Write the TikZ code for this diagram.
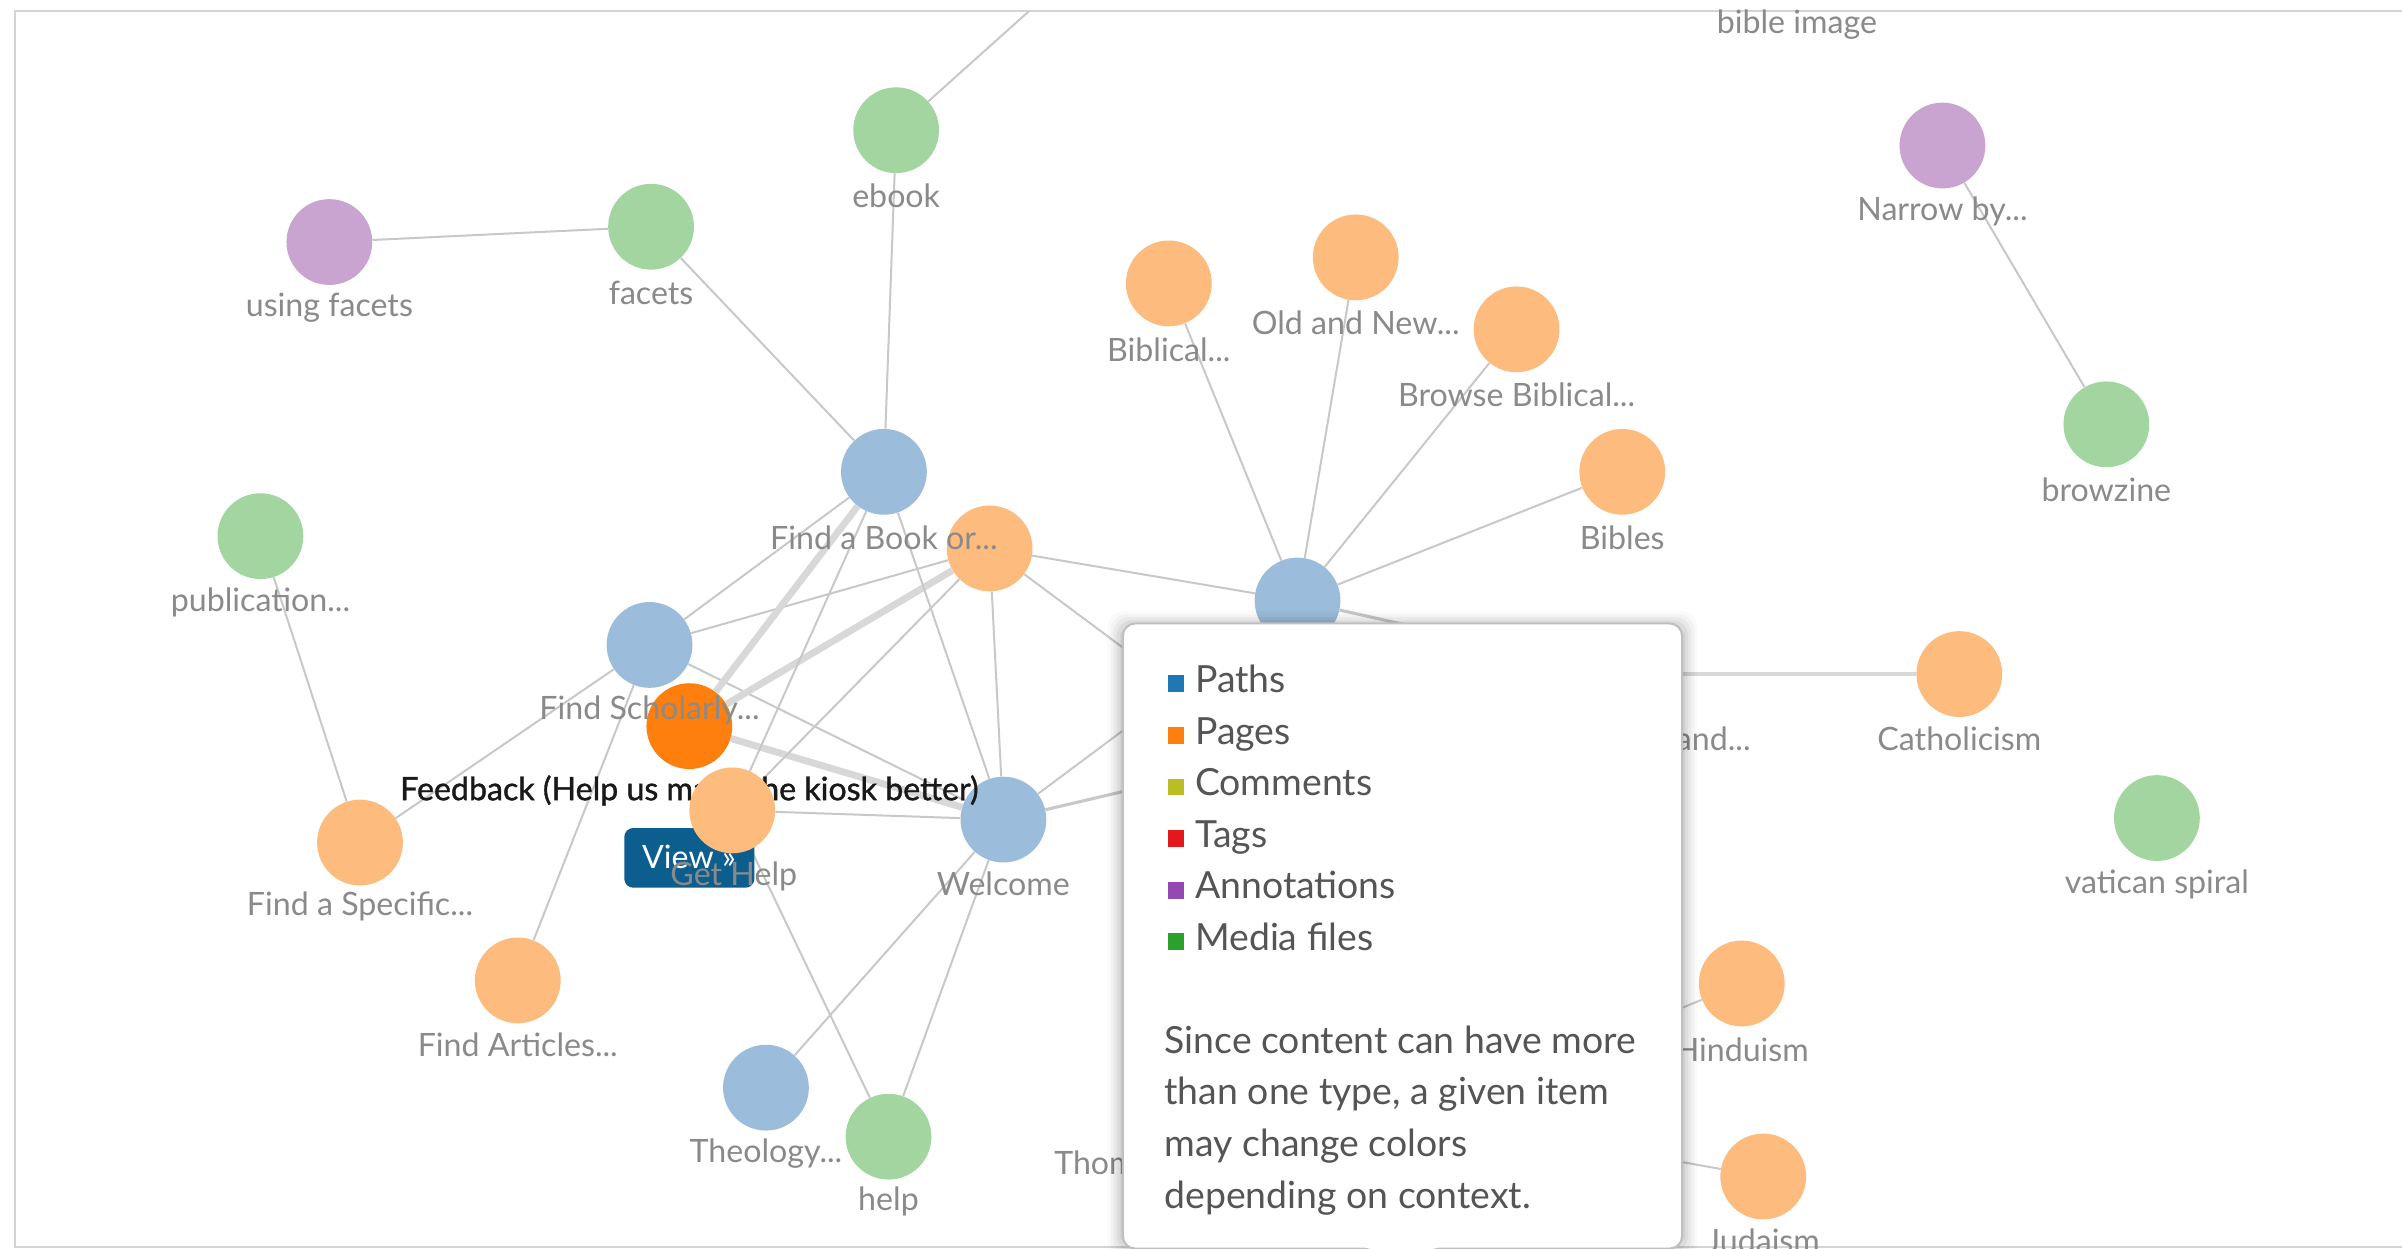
\documentclass[tikz,border=0pt]{standalone}
\usepackage{fontspec}
\setmainfont{Lato}
\newfontfamily\featherbold{Lato}[FakeBold=1.2]
\usetikzlibrary{backgrounds}
\definecolor{nblue}{RGB}{155,188,218}
\definecolor{norange}{RGB}{253,187,125}
\definecolor{ngreen}{RGB}{163,213,160}
\definecolor{npurple}{RGB}{202,164,208}
\definecolor{ndark}{RGB}{255,127,14}
\definecolor{edgec}{RGB}{200,200,200}
\definecolor{heavyc}{RGB}{216,216,216}
\definecolor{labc}{RGB}{138,138,138}
\definecolor{tipc}{RGB}{85,85,85}
\definecolor{framec}{RGB}{212,212,212}
\definecolor{btnc}{RGB}{11,94,142}
\definecolor{cpaths}{RGB}{31,119,180}
\definecolor{cpages}{RGB}{255,127,14}
\definecolor{ccomments}{RGB}{188,189,34}
\definecolor{ctags}{RGB}{226,24,28}
\definecolor{cann}{RGB}{148,72,178}
\definecolor{cmedia}{RGB}{44,160,44}
\tikzset{
  vertex/.style={circle, minimum size=56pt, inner sep=0pt, draw=none},
  lab/.style={text=labc, font=\fontsize{21}{24}\selectfont, inner sep=0pt},
  edge/.style={draw=edgec, line width=1.3pt},
  heavy/.style={draw=heavyc, line width=4.5pt},
  medium/.style={draw=heavyc, line width=3pt},
  legtext/.style={text=tipc, font=\fontsize{24.4}{28}\selectfont, anchor=base west, inner sep=0pt},
  legsq/.style={inner sep=0pt, minimum width=10.5pt, minimum height=11pt, anchor=south west},
}
\begin{document}
\begin{tikzpicture}[x=1pt,y=-1pt]
\useasboundingbox (0,0) rectangle (1568,815);

% hidden end points (behind the tooltip / outside the frame)
\coordinate (offtop) at (672,7);
\coordinate (hA) at (1060,440);
\coordinate (hB) at (926,728);
\coordinate (hC) at (900,547);

% nodes, in drawing order
\node[vertex, fill=npurple] (UF) at (215,158) {};
\node[lab] (UF-l) at (215,201) {using facets};
\node[vertex, fill=ngreen] (FC) at (425,148) {};
\node[lab] (FC-l) at (425,191) {facets};
\node[vertex, fill=ngreen] (EB) at (585,85) {};
\node[lab] (EB-l) at (585,128) {ebook};
\node[vertex, fill=npurple] (NB) at (1268,95) {};
\node[lab] (NB-l) at (1268,138) {Narrow by...};
\node[lab] (BIM-l) at (1173,16) {bible image};
\node[vertex, fill=ngreen] (BZ) at (1375,277) {};
\node[lab] (BZ-l) at (1375,320) {browzine};
\node[vertex, fill=norange] (BI) at (763,185) {};
\node[lab] (BI-l) at (763,228) {Biblical...};
\node[vertex, fill=norange] (ON) at (885,168) {};
\node[lab] (ON-l) at (885,211) {Old and New...};
\node[vertex, fill=norange] (BB) at (990,215) {};
\node[lab] (BB-l) at (990,258) {Browse Biblical...};
\node[vertex, fill=norange] (BS) at (1059,308) {};
\node[lab] (BS-l) at (1059,351) {Bibles};
\node[vertex, fill=nblue] (HUB) at (847,392) {};
\node[vertex, fill=norange] (CA) at (1279,440) {};
\node[lab] (CA-l) at (1279,482) {Catholicism};
\node[lab, anchor=east] (AND-l) at (1143,482) {and...};
\node[vertex, fill=ngreen] (VS) at (1408,534) {};
\node[lab] (VS-l) at (1408,577) {vatican spiral};
\node[vertex, fill=norange] (HI) at (1137,642) {};
\node[lab] (HI-l) at (1137,685) {Hinduism};
\node[vertex, fill=norange] (JU) at (1151,768) {};
\node[lab] (JU-l) at (1151,810) {Judaism};
\node[lab, anchor=west] (TOM-l) at (688,759) {Thom};
\node[vertex, fill=ngreen] (PUB) at (170,350) {};
\node[lab] (PUB-l) at (170,393) {publication...};
\node[vertex, fill=norange] (FSP) at (235,550) {};
\node[lab] (FSP-l) at (235,592) {Find a Specific...};
\node[vertex, fill=norange] (FA) at (338,640) {};
\node[lab] (FA-l) at (338,682) {Find Articles...};
\node[vertex, fill=nblue] (TH) at (500,710) {};
\node[lab] (TH-l) at (500,753) {Theology...};
\node[vertex, fill=ngreen] (HE) at (580,742) {};
\node[lab] (HE-l) at (580,784) {help};
\node[vertex, fill=nblue] (W) at (655,535) {};
\node[lab] (W-l) at (655,577) {Welcome};
\node[vertex, fill=norange] (O1) at (646,358) {};
\node[vertex, fill=nblue] (FB) at (577,308) {};
\node[lab] (FB-l) at (577,351) {Find a Book or...};
\node[vertex, fill=ndark] (FD) at (450,474) {};
\node[inner sep=0pt, text=black!90, font=\featherbold\fontsize{21}{24}\selectfont] (FD-l) at (450,516) {Feedback (Help us make the kiosk better)};
\node[fill=btnc, rounded corners=6pt, minimum width=85pt, minimum height=39pt, inner sep=0pt] (VIEW) at (450,560) {};
\node[text=white, font=\fontsize{21}{24}\selectfont, inner sep=0pt, anchor=base west] (VIEW-l) at (419,567) {View »};
\node[vertex, fill=norange] (GH) at (478,529) {};
\node[lab] (GH-l) at (479,572) {Get Help};
\node[vertex, fill=nblue] (FS) at (424,421) {};
\node[lab] (FS-l) at (424,464) {Find Scholarly...};

% connectors (and page background) behind the nodes
\begin{scope}[on background layer]
\fill[white] (0,0) rectangle (1568,815);
\draw[framec, line width=1.5pt] (10,7) rectangle (1600,814);
\draw[edge] (EB) -- (offtop);
\draw[edge] (EB) -- (FB);
\draw[edge] (UF) -- (FC);
\draw[edge] (FC) -- (FB);
\draw[edge] (NB) -- (BZ);
\draw[edge] (BI) -- (HUB);
\draw[edge] (ON) -- (HUB);
\draw[edge] (BB) -- (HUB);
\draw[edge] (BS) -- (HUB);
\draw[edge] (O1) -- (HUB);
\draw[edge] (O1) -- (hC);
\draw[edge, line width=2pt] (HUB) -- (hA);
\draw[medium] (CA) -- (hA);
\draw[edge, line width=2pt] (W) -- (hA);
\draw[edge] (W) -- (HUB);
\draw[edge] (HI) -- (hB);
\draw[edge] (JU) -- (hB);
\draw[edge] (PUB) -- (FSP);
\draw[edge] (FSP) -- (FS);
\draw[edge] (FS) -- (FB);
\draw[edge] (FS) -- (O1);
\draw[edge] (FS) -- (W);
\draw[edge] (FS) -- (FA);
\draw[heavy] (FB) -- (FD);
\draw[heavy] (O1) -- (FD);
\draw[heavy] (FD) -- (W);
\draw[edge] (FB) -- (W);
\draw[edge] (FB) -- (GH);
\draw[edge] (O1) -- (W);
\draw[edge] (O1) -- (GH);
\draw[edge] (GH) -- (W);
\draw[edge] (GH) -- (HE);
\draw[edge] (TH) -- (W);
\draw[edge] (HE) -- (W);
\end{scope}

% tooltip
\foreach \s/\o in {10/0.02,8/0.03,6/0.04,4/0.05,2/0.05}{
  \fill[black, opacity=\o, rounded corners=10pt] (733-\s,407-\s+2) rectangle (1098+\s,813+\s);
}
\draw[draw=black!25, line width=1.3pt, fill=white, rounded corners=8pt]
  (733,407) -- (1098,407) -- (1098,815) -- (933,815) -- (915,834) -- (897,815) -- (733,815) -- cycle;
\node[legsq, fill=cpaths] (sq1) at (762,452) {};
\node[legtext] (t1) at (780,452) {Paths};
\node[legsq, fill=cpages] (sq2) at (762,485.7) {};
\node[legtext] (t2) at (780,485.7) {Pages};
\node[legsq, fill=ccomments] (sq3) at (762,519.4) {};
\node[legtext] (t3) at (780,519.4) {Comments};
\node[legsq, fill=ctags] (sq4) at (762,553.1) {};
\node[legtext] (t4) at (780,553.1) {Tags};
\node[legsq, fill=cann] (sq5) at (762,586.8) {};
\node[legtext] (t5) at (780,586.8) {Annotations};
\node[legsq, fill=cmedia] (sq6) at (762,620.5) {};
\node[legtext] (t6) at (780,620.5) {Media files};
\node[legtext] (p1) at (760,687.6) {Since content can have more};
\node[legtext] (p2) at (760,721.3) {than one type, a given item};
\node[legtext] (p3) at (760,755) {may change colors};
\node[legtext] (p4) at (760,788.7) {depending on context.};
\end{tikzpicture}
\end{document}
